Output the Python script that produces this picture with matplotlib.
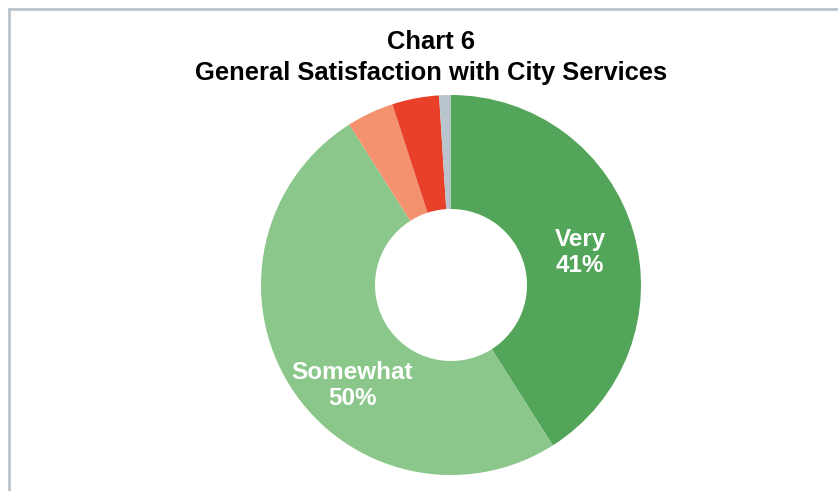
import matplotlib.pyplot as plt
from matplotlib.patches import Rectangle

categories = ["Very", "Somewhat", "Not very", "Not at all", "Don't know"]
shares = [41, 50, 4, 4, 1]
colors = ["#53A55A", "#8BC78A", "#F4926F", "#E84029", "#BAC4CC"]
shown_labels = {"Very": (0.68, 0.17), "Somewhat": (-0.52, -0.53)}

plt.rcParams["font.family"] = ["Liberation Sans", "DejaVu Sans"]

W, H = 838, 491
fig = plt.figure(figsize=(W / 100, H / 100), dpi=100)

# light frame around the chart area (only left/top visible)
fig.add_artist(Rectangle((8.5 / W, -0.1), 1.2, (H - 8.5) / H + 0.1,
                         transform=fig.transFigure, fill=False,
                         edgecolor="#BAC4CC", linewidth=2))

cx, cy, r = 451, 285, 190
ax = fig.add_axes([(cx - r) / W, (H - cy - r) / H, 2 * r / W, 2 * r / H])
ax.pie(shares, colors=colors, startangle=90, counterclock=False, radius=1,
       wedgeprops=dict(width=0.6, edgecolor="none"))
ax.set_xlim(-1, 1)
ax.set_ylim(-1, 1)
ax.set_aspect("equal")
ax.axis("off")

for cat, val in zip(categories, shares):
    if cat in shown_labels:
        x, y = shown_labels[cat]
        ax.text(x, y, f"{cat}\n{val}%", color="white", fontsize=17.5,
                fontweight="bold", ha="center", va="center", linespacing=1.15)

fig.text(431 / W, 1 - 42 / H, "Chart 6", ha="center", va="center",
         fontsize=18.4, fontweight="bold")
fig.text(431 / W, 1 - 73 / H, "General Satisfaction with City Services",
         ha="center", va="center", fontsize=18.4, fontweight="bold")

fig.savefig("out.png", dpi=100)
